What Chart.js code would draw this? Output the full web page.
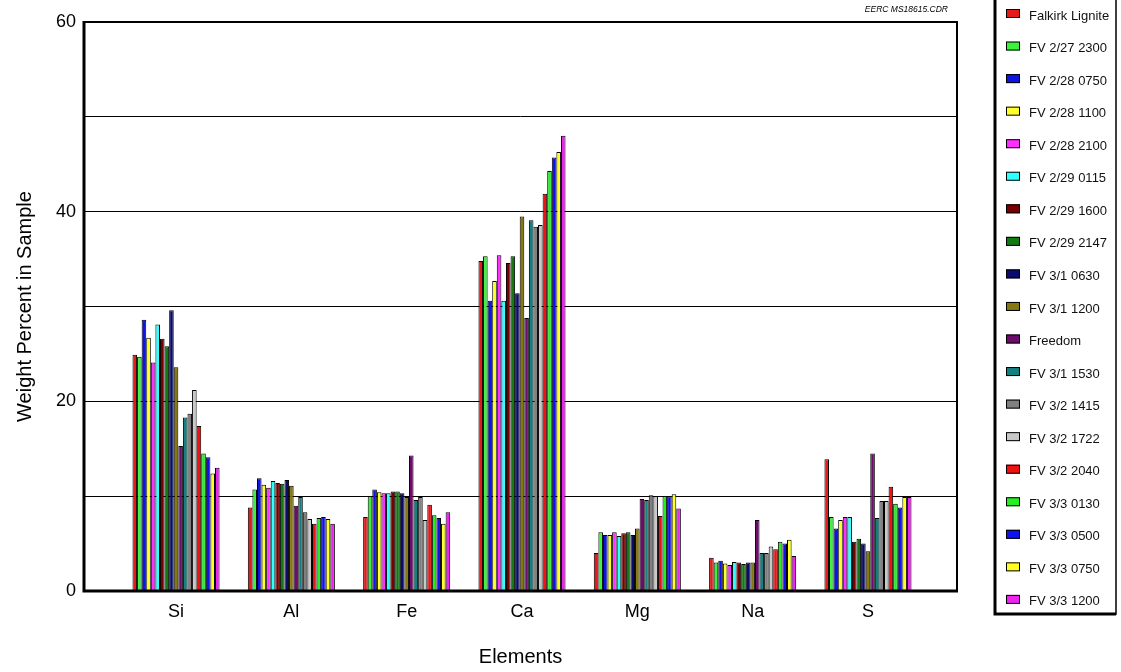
<!DOCTYPE html>
<html>
<head>
<meta charset="utf-8">
<script src="https://cdn.jsdelivr.net/npm/chart.js@4.4.1/dist/chart.umd.min.js"></script>
<style>
    html, body { margin: 0; padding: 0; background: #ffffff; }
    #wrap { width: 1121px; height: 672px; position: relative; }
</style>
</head>
<body>
<div id="wrap"><canvas id="chartElements"></canvas></div>
<script>
const elements = ['Si', 'Al', 'Fe', 'Ca', 'Mg', 'Na', 'S'];

const samples = ['Falkirk Lignite', 'FV 2/27 2300', 'FV 2/28 0750', 'FV 2/28 1100', 'FV 2/28 2100',
    'FV 2/29 0115', 'FV 2/29 1600', 'FV 2/29 2147', 'FV 3/1 0630', 'FV 3/1 1200', 'Freedom',
    'FV 3/1 1530', 'FV 3/2 1415', 'FV 3/2 1722', 'FV 3/2 2040', 'FV 3/3 0130', 'FV 3/3 0500',
    'FV 3/3 0750', 'FV 3/3 1200'];

// one value per sample, same order as samples
const si = [24.9, 24.7, 28.6, 26.7, 24.1, 28.1, 26.6, 25.8, 29.6, 23.6, 15.3, 18.3, 18.7, 21.2, 17.4, 14.5, 14.1, 12.4, 13.0];
const al = [8.8, 10.7, 11.9, 11.2, 10.9, 11.6, 11.4, 11.3, 11.7, 11.1, 9.0, 9.9, 8.3, 7.6, 7.1, 7.7, 7.8, 7.6, 7.1];
const fe = [7.8, 10.0, 10.7, 10.4, 10.3, 10.3, 10.5, 10.5, 10.3, 9.9, 14.3, 9.6, 9.9, 7.5, 9.1, 8.0, 7.7, 7.1, 8.3];
const ca = [34.8, 35.3, 30.6, 32.7, 35.4, 30.6, 34.6, 35.3, 31.4, 39.5, 28.8, 39.1, 38.4, 38.6, 41.9, 44.3, 45.7, 46.3, 48.0];
const mg = [4.0, 6.2, 5.9, 5.9, 6.2, 5.8, 6.1, 6.2, 5.9, 6.6, 9.7, 9.6, 10.1, 10.0, 7.9, 10.0, 10.0, 10.2, 8.7];
const na = [3.5, 3.0, 3.2, 2.9, 2.75, 3.05, 3.0, 2.85, 3.0, 3.0, 7.5, 4.0, 4.0, 4.7, 4.4, 5.2, 5.0, 5.4, 3.7];
const s = [13.9, 7.8, 6.6, 7.5, 7.8, 7.8, 5.2, 5.5, 5.0, 4.2, 14.5, 7.7, 9.5, 9.5, 11.0, 9.2, 8.8, 9.9, 9.9];

const yTicks = [0, 20, 40, 60];

const cores = ['#e41b1b', '#3cf23c', '#0c16e0', '#ffff30', '#ff30ff', '#30ffff', '#7a0000', '#137a13',
    '#0b0b6c', '#857810', '#6e0c6e', '#148080', '#808080', '#c8c8c8', '#ee1212', '#24ee24',
    '#1212ee', '#ffff24', '#ee24ee'];

const valores = [si, al, fe, ca, mg, na, s];

Chart.defaults.font.family = "'Liberation Sans', Arial, Helvetica, sans-serif";
Chart.defaults.color = '#000000';

const datasets = samples.map(function (nome, i) {
    return {
        label: nome,
        backgroundColor: cores[i],
        borderColor: '#000000',
        borderWidth: 1,
        data: valores.map(function (grupo, j) { return { x: j, y: grupo[i] }; })
    };
});

// moldura do grafico, legenda e nota do arquivo
const moldura = {
    id: 'moldura',
    afterDraw(chart) {
        const { ctx, chartArea: a } = chart;
        ctx.save();
        ctx.strokeStyle = '#000000';
        ctx.lineWidth = 2;
        ctx.strokeRect(a.left, a.top, a.right - a.left, a.bottom - a.top);
        ctx.lineWidth = 3;
        ctx.beginPath();
        ctx.moveTo(a.left, a.top - 1);
        ctx.lineTo(a.left, a.bottom);
        ctx.lineTo(a.right + 1, a.bottom);
        ctx.stroke();

        ctx.font = "italic 8.5px 'Liberation Sans', Arial, sans-serif";
        ctx.fillStyle = '#000000';
        ctx.textAlign = 'right';
        ctx.textBaseline = 'middle';
        ctx.fillText('EERC MS18615.CDR', a.right - 9, 10);

        // caixa da legenda
        const lx = 995, ly = -2, lw = 121, lh = 616;
        ctx.lineWidth = 1.5;
        ctx.strokeRect(lx, ly, lw, lh);
        ctx.lineWidth = 3;
        ctx.beginPath();
        ctx.moveTo(lx, ly);
        ctx.lineTo(lx, ly + lh);
        ctx.lineTo(lx + lw, ly + lh);
        ctx.stroke();

        ctx.textAlign = 'left';
        ctx.font = "13px 'Liberation Sans', Arial, sans-serif";
        chart.data.datasets.forEach(function (ds, i) {
            const cy = 15 + i * 32.55;
            ctx.fillStyle = ds.backgroundColor;
            ctx.fillRect(1006, cy - 6, 14, 9);
            ctx.lineWidth = 1;
            ctx.strokeStyle = '#000000';
            ctx.strokeRect(1006.5, cy - 5.5, 13, 8);
            ctx.fillStyle = '#111111';
            ctx.fillText(ds.label, 1029, cy + 1);
        });
        ctx.restore();
    }
};

const ctxElements = document.getElementById('chartElements');
const chartElements = new Chart(ctxElements, {
    type: 'bar',
    data: { datasets: datasets },
    options: {
        responsive: true,
        maintainAspectRatio: false,
        animation: false,
        layout: { padding: { top: 22, right: 164, left: 0, bottom: 0 } },
        categoryPercentage: 0.755,
        barPercentage: 1,
        plugins: {
            legend: { display: false },
            tooltip: { enabled: false }
        },
        scales: {
            x: {
                type: 'linear',
                min: -0.798,
                max: 6.772,
                offset: false,
                grid: { display: false, drawTicks: false },
                border: { display: false },
                afterBuildTicks: function (scale) {
                    scale.ticks = elements.map(function (e, i) { return { value: i }; });
                },
                afterFit: function (scale) { scale.height = 81; },
                ticks: {
                    autoSkip: false,
                    maxRotation: 0,
                    padding: 10,
                    color: '#000000',
                    font: { size: 18 },
                    callback: function (v) { return elements[v]; }
                },
                title: {
                    display: true,
                    text: 'Elements',
                    color: '#000000',
                    font: { size: 20 },
                    padding: { top: 0, bottom: 3 }
                }
            },
            y: {
                min: 0,
                max: 60,
                grid: { color: '#000000', lineWidth: 1, drawTicks: false },
                border: { display: false },
                afterFit: function (scale) { scale.width = 84; },
                ticks: {
                    stepSize: 10,
                    padding: 8,
                    color: '#000000',
                    font: { size: 18 },
                    callback: function (v) { return yTicks.includes(v) ? v : ''; }
                },
                title: {
                    display: true,
                    text: 'Weight Percent in Sample',
                    color: '#000000',
                    font: { size: 20 },
                    padding: { top: 13, bottom: 0 }
                }
            }
        }
    },
    plugins: [moldura]
});
</script>
</body>
</html>
